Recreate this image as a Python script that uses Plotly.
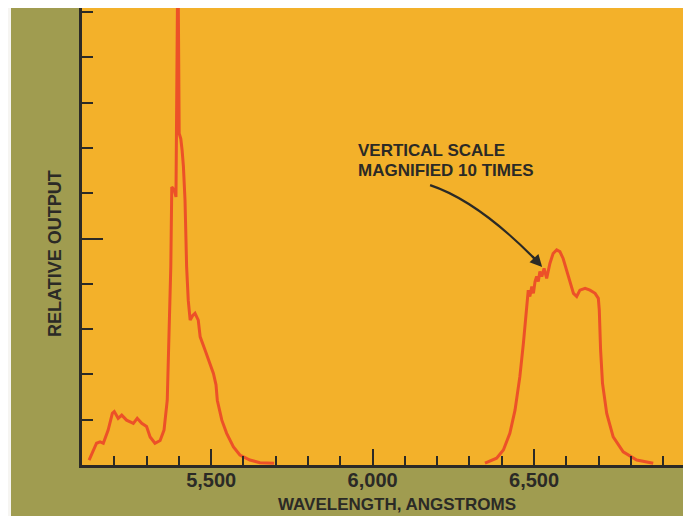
import plotly.graph_objects as go

# ---- data ----
wavelength_main = [5122, 5145, 5156, 5166, 5181, 5194, 5200, 5212, 5223, 5238, 5259, 5271,
                   5285, 5300, 5311, 5326, 5342, 5354, 5364, 5370, 5375, 5378, 5386, 5391,
                   5393, 5397, 5401, 5406, 5410, 5414, 5419, 5424, 5429, 5435, 5443, 5450,
                   5460, 5466, 5481, 5491, 5507, 5515, 5519, 5533, 5548, 5569, 5589, 5620,
                   5651, 5695]
output_main = [0.11, 0.48, 0.51, 0.48, 0.77, 1.14, 1.18, 1.03, 1.10, 0.99, 0.92, 1.03,
               0.92, 0.85, 0.62, 0.48, 0.54, 0.77, 1.43, 2.91, 4.38, 6.14, 6.07, 5.92,
               7.32, 11.5, 7.32, 7.20, 6.95, 6.60, 5.85, 4.38, 3.64, 3.20, 3.30, 3.35,
               3.20, 2.83, 2.54, 2.32, 2.02, 1.77, 1.43, 0.99, 0.70, 0.40, 0.22, 0.11,
               0.05, 0.04]

wavelength_mag = [6348, 6384, 6405, 6425, 6441, 6456, 6467, 6475, 6479, 6482, 6487, 6493,
                  6498, 6503, 6508, 6513, 6518, 6524, 6531, 6539, 6549, 6559, 6570, 6580,
                  6590, 6601, 6611, 6622, 6632, 6642, 6658, 6673, 6689, 6699, 6702, 6706,
                  6712, 6725, 6745, 6776, 6818, 6869]
output_mag = [0.04, 0.15, 0.33, 0.70, 1.21, 1.95, 2.69, 3.27, 3.60, 3.86, 3.72, 3.94,
              3.79, 4.05, 4.16, 4.05, 4.27, 4.16, 4.34, 4.12, 4.45, 4.67, 4.75, 4.71,
              4.56, 4.30, 4.01, 3.79, 3.72, 3.86, 3.90, 3.86, 3.79, 3.68, 3.42, 2.54,
              1.80, 1.14, 0.62, 0.29, 0.11, 0.04]

x_tick_values = [5500, 6000, 6500]
x_tick_labels = ["5,500", "6,000", "6,500"]

x_title = "WAVELENGTH, ANGSTROMS"
y_title = "RELATIVE OUTPUT"
note_lines = ["VERTICAL SCALE", "MAGNIFIED 10 TIMES"]

# ---- styling ----
PLOT_BG = "#F3B12A"
PAPER_BG = "#A09C50"
LINE = "#EC5128"
INK = "#2B2A26"
FONT = "Liberation Sans, Arial, sans-serif"

# the page itself adds an 8px white margin at top/left, so the figure is 8px smaller
W, H = 683, 508
ML, MB = 74, 51
PW, PH = W - ML, H - MB


def px_to_paper_x(px):  # px in reference-image pixels
    return (px - 8 - ML) / PW


def py_to_paper_y(py):
    return (H - MB - (py - 8)) / PH


fig = go.Figure()
fig.add_trace(go.Scatter(x=wavelength_main, y=output_main, mode="lines",
                         line=dict(color=LINE, width=3), hoverinfo="skip"))
fig.add_trace(go.Scatter(x=wavelength_mag, y=output_mag, mode="lines",
                         line=dict(color=LINE, width=3), hoverinfo="skip"))

fig.update_layout(
    width=W, height=H,
    margin=dict(l=ML, r=0, t=0, b=MB),
    paper_bgcolor=PAPER_BG, plot_bgcolor=PLOT_BG,
    showlegend=False,
    font=dict(family=FONT, color=INK),
    xaxis=dict(range=[5100, 6986], showgrid=False, zeroline=False,
               showline=True, linecolor=INK, linewidth=3,
               tickmode="array", tickvals=x_tick_values, ticktext=x_tick_labels,
               ticks="inside", ticklen=16, tickwidth=2, tickcolor=INK,
               ticklabelstandoff=-5,
               tickfont=dict(family=FONT, size=20, color=INK, weight="bold"),
               minor=dict(tick0=5100, dtick=100, ticks="inside", ticklen=9,
                          tickwidth=2, tickcolor=INK, showgrid=False)),
    yaxis=dict(range=[0, 10.09], showgrid=False, zeroline=False,
               showline=True, linecolor=INK, linewidth=3,
               tickmode="array", tickvals=[5], showticklabels=False,
               ticks="inside", ticklen=21, tickwidth=2, tickcolor=INK,
               minor=dict(tick0=0, dtick=1, ticks="inside", ticklen=11,
                          tickwidth=2, tickcolor=INK, showgrid=False)),
)

# extra white border strip at the left of the scanned page
fig.add_shape(type="rect", xref="paper", yref="paper",
              x0=px_to_paper_x(0), x1=px_to_paper_x(11), y0=-0.2, y1=1.05,
              fillcolor="#F6F5F2", line_width=0, layer="above")

# axis titles
fig.add_annotation(text=x_title, xref="paper", yref="paper", x=px_to_paper_x(397),
                   y=py_to_paper_y(504), xanchor="center", yanchor="middle", showarrow=False,
                   font=dict(family=FONT, size=17, color=INK, weight="bold"))
fig.add_annotation(text=y_title, xref="paper", yref="paper", x=px_to_paper_x(55),
                   y=py_to_paper_y(254), xanchor="center", yanchor="middle", showarrow=False,
                   textangle=-90, font=dict(family=FONT, size=18, color=INK, weight="bold"))

# note with curved arrow
fig.add_annotation(text=note_lines[0], x=5952, y=6.94, xanchor="left", yanchor="middle",
                   showarrow=False, borderpad=0,
                   font=dict(family=FONT, size=17, color=INK, weight="bold"))
fig.add_annotation(text=note_lines[1], x=5952, y=6.50, xanchor="left", yanchor="middle",
                   showarrow=False, borderpad=0,
                   font=dict(family=FONT, size=17, color=INK, weight="bold"))
fig.add_shape(type="path", xref="x", yref="y",
              path="M 6178,6.18 Q 6333,5.81 6520,4.42",
              line=dict(color=INK, width=2.2))
fig.add_annotation(text="", x=6525, y=4.37, ax=-11, ay=-12, showarrow=True,
                   arrowhead=2, arrowsize=1.1, arrowwidth=2.2, arrowcolor=INK, standoff=0)

fig.write_html("out.html")
